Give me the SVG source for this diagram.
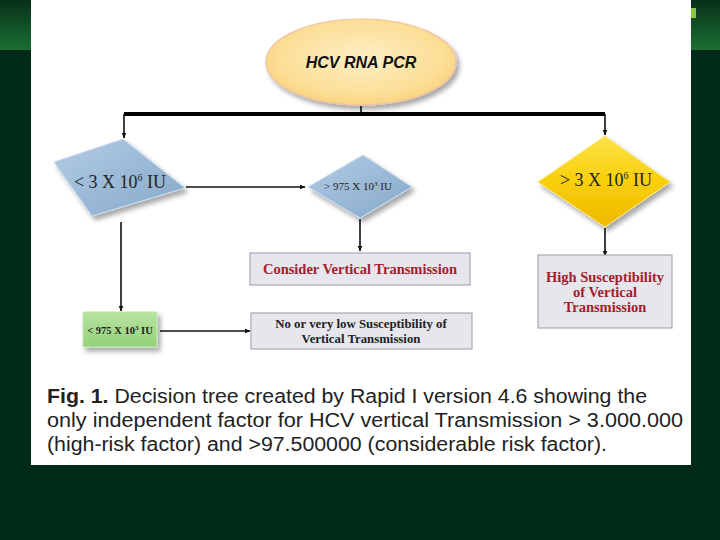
<svg xmlns="http://www.w3.org/2000/svg" width="720" height="540" viewBox="0 0 720 540">
<defs>
<linearGradient id="band" x1="0" y1="0" x2="0" y2="1">
<stop offset="0" stop-color="#06301a"/>
<stop offset="1" stop-color="#1c6e32"/>
</linearGradient>
<radialGradient id="ell" cx="0.5" cy="0.45" r="0.6">
<stop offset="0" stop-color="#fdeec4"/>
<stop offset="0.7" stop-color="#fcdf98"/>
<stop offset="1" stop-color="#f8d078"/>
</radialGradient>
<linearGradient id="blue" x1="0" y1="0" x2="1" y2="1">
<stop offset="0" stop-color="#b4cde4"/>
<stop offset="0.5" stop-color="#9bbad8"/>
<stop offset="1" stop-color="#86a8c8"/>
</linearGradient>
<linearGradient id="yellow" x1="0" y1="0" x2="0" y2="1">
<stop offset="0" stop-color="#fde24a"/>
<stop offset="0.5" stop-color="#f8cf0a"/>
<stop offset="1" stop-color="#f0b800"/>
</linearGradient>
<linearGradient id="green" x1="0" y1="0" x2="0" y2="1">
<stop offset="0" stop-color="#b6e4a0"/>
<stop offset="1" stop-color="#94d07a"/>
</linearGradient>
<filter id="sh" x="-20%" y="-20%" width="150%" height="150%">
<feGaussianBlur in="SourceAlpha" stdDeviation="2.5"/>
<feOffset dx="3" dy="4" result="b"/>
<feComponentTransfer><feFuncA type="linear" slope="0.35"/></feComponentTransfer>
<feMerge><feMergeNode/><feMergeNode in="SourceGraphic"/></feMerge>
</filter>
<marker id="arr" viewBox="0 0 10 10" refX="9" refY="5" markerWidth="6" markerHeight="6" orient="auto" markerUnits="userSpaceOnUse">
<path d="M0,1 L10,5 L0,9 z" fill="#111"/>
</marker>
</defs>
<style>
.ln{stroke:#111;stroke-width:1.6;fill:none}
.box{fill:#e6e6ec;stroke:#a8a8b4;stroke-width:1.2}
.red{font-family:"Liberation Serif",serif;font-weight:bold;font-size:14.5px;fill:#a3202c;text-anchor:middle}
.blk{font-family:"Liberation Serif",serif;font-weight:bold;font-size:12.8px;fill:#222;text-anchor:middle}
.dia{font-family:"Liberation Serif",serif;fill:#222;text-anchor:middle}
.cap{font-family:"Liberation Sans",sans-serif;font-size:20px;fill:#222}
</style>
<rect width="720" height="540" fill="#022a18"/>
<rect x="0" y="0" width="31" height="50" fill="url(#band)"/>
<rect x="691" y="0" width="29" height="50" fill="url(#band)"/>
<rect x="691" y="8" width="5" height="10" fill="#8cc640"/>
<rect x="31" y="0" width="660" height="465" fill="#ffffff"/>

<g id="connectors">
<line class="ln" x1="361" y1="106" x2="361" y2="113"/>
<line x1="124" y1="114" x2="605" y2="114" stroke="#000" stroke-width="4"/>
<line class="ln" x1="124" y1="114" x2="124" y2="138" marker-end="url(#arr)"/>
<line class="ln" x1="605" y1="114" x2="605" y2="135" marker-end="url(#arr)"/>
<line class="ln" x1="186" y1="187" x2="305" y2="187" marker-end="url(#arr)"/>
<line class="ln" x1="360" y1="219" x2="360" y2="251" marker-end="url(#arr)"/>
<line class="ln" x1="605" y1="228" x2="605" y2="256" marker-end="url(#arr)"/>
<line class="ln" x1="121" y1="222" x2="121" y2="311" marker-end="url(#arr)"/>
<line class="ln" x1="160" y1="331" x2="250" y2="331" marker-end="url(#arr)"/>
</g>

<g id="start">
<ellipse cx="361" cy="62" rx="95" ry="43" fill="url(#ell)" stroke="#f0c0a0" stroke-width="1.2" filter="url(#sh)"/>
<text x="361" y="68" font-family="Liberation Sans,sans-serif" font-weight="bold" font-style="italic" font-size="16" fill="#111" text-anchor="middle">HCV RNA PCR</text>
</g>

<g id="low">
<polygon points="123,139 185,188 92,216 54,162" fill="url(#blue)" stroke="#c8dcee" stroke-width="1" filter="url(#sh)"/>
<text class="dia" x="120" y="188" font-size="18">&lt; 3 X 10<tspan font-size="10" dy="-7">6</tspan><tspan dy="7"> IU</tspan></text>
</g>

<g id="mid">
<polygon points="363,155 412,187 360,218 308,187" fill="url(#blue)" stroke="#c8dcee" stroke-width="1" filter="url(#sh)"/>
<text class="dia" x="358" y="190" font-size="11">&gt; 975 X 10<tspan font-size="7" dy="-4">3</tspan><tspan dy="4"> IU</tspan></text>
</g>

<g id="high">
<polygon points="605,136 670,182 605,227 538,182" fill="url(#yellow)" stroke="#fbe680" stroke-width="1" filter="url(#sh)"/>
<text class="dia" x="606" y="186" font-size="18">&gt; 3 X 10<tspan font-size="10" dy="-7">6</tspan><tspan dy="7"> IU</tspan></text>
</g>

<g id="consider">
<rect class="box" x="250" y="253" width="220" height="32"/>
<text class="red" x="360" y="274">Consider Vertical Transmission</text>
</g>

<g id="highsus">
<rect class="box" x="538" y="255" width="134" height="73"/>
<text class="red" x="605" y="282">High Susceptibility</text>
<text class="red" x="605" y="297">of Vertical</text>
<text class="red" x="605" y="312">Transmission</text>
</g>

<g id="lowval">
<rect x="83" y="312" width="74" height="35" fill="url(#green)" stroke="#c4eab4" stroke-width="1" filter="url(#sh)"/>
<text class="dia" x="120" y="334" font-size="10.5" font-weight="bold">&lt; 975 X 10<tspan font-size="7" dy="-4">3</tspan><tspan dy="4"> IU</tspan></text>
</g>

<g id="lowsus">
<rect class="box" x="251" y="313" width="221" height="36"/>
<text class="blk" x="361" y="328">No or very low Susceptibility of</text>
<text class="blk" x="361" y="343">Vertical Transmission</text>
</g>

<g id="caption">
<text class="cap" x="47" y="403" textLength="600" lengthAdjust="spacingAndGlyphs"><tspan font-weight="bold">Fig. 1.</tspan> Decision tree created by Rapid I version 4.6 showing the</text>
<text class="cap" x="47" y="427" textLength="636" lengthAdjust="spacingAndGlyphs">only independent factor for HCV vertical Transmission &gt; 3.000.000</text>
<text class="cap" x="47" y="451" textLength="560" lengthAdjust="spacingAndGlyphs">(high-risk factor) and &gt;97.500000 (considerable risk factor).</text>
</g>
</svg>
